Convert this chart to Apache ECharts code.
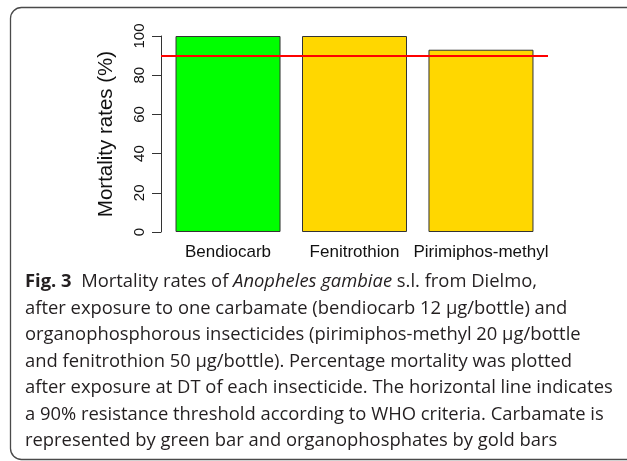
<!DOCTYPE html>
<html>
<head>
<meta charset="utf-8">
<title>Fig. 3 Mortality rates</title>
<script src="https://cdn.jsdelivr.net/npm/echarts@6/dist/echarts.min.js"></script>
<style>
    html, body {
        margin: 0;
        padding: 0;
        background: #fff;
    }
    #main {
        width: 627px;
        height: 461px;
    }
</style>
</head>
<body>
<div id="main"></div>
<script>
    // insecticides, in plotting order
    var categories = ['Bendiocarb', 'Fenitrothion', 'Pirimiphos-methyl']
    var insecticideClass = ['carbamate', 'organophosphate', 'organophosphate']
    // mortality (%)
    var mortality = [100, 100, 93]
    // WHO resistance threshold (%)
    var threshold = 90
    // y axis ticks
    var yTicks = [0, 20, 40, 60, 80, 100]

    // bar midpoints as R barplot lays them out (width 1, space 0.2)
    var barMid = categories.map(function (c, i) { return 0.7 + 1.2 * i })

    var captionLines = [
        '{b|Fig. 3}  Mortality rates of {i|Anopheles gambiae} s.l. from Dielmo,',
        'after exposure to one carbamate (bendiocarb 12 µg/bottle) and',
        'organophosphorous insecticides (pirimiphos-methyl 20 µg/bottle',
        'and fenitrothion 50 µg/bottle). Percentage mortality was plotted',
        'after exposure at DT of each insecticide. The horizontal line indicates',
        'a 90% resistance threshold according to WHO criteria. Carbamate is',
        'represented by green bar and organophosphates by gold bars'
    ]

    var classColor = {
        carbamate: '#00ff00',
        organophosphate: '#ffd700'
    }
    var rFont = 'Liberation Sans, Arial, sans-serif'
    var capFont = 'Open Sans, Noto Sans, sans-serif'
    var capSize = 18.4

    var chart = echarts.init(document.getElementById('main'), null, {renderer: 'canvas'})

    var graphics = [{
        type: 'rect',
        shape: {x: 10.5, y: 7.5, width: 650, height: 452, r: 11},
        style: {fill: 'none', stroke: '#4a4a4a', lineWidth: 1.3},
        z: 0
    }]
    captionLines.forEach(function (line, i) {
        graphics.push({
            type: 'text',
            left: 25,
            top: 273 + i * 26.5,
            style: {
                text: line,
                fontFamily: capFont,
                fontSize: capSize,
                fill: '#231f20',
                rich: {
                    b: {fontFamily: capFont, fontSize: capSize, fontWeight: 'bold', fill: '#231f20'},
                    i: {fontFamily: capFont, fontSize: capSize, fontStyle: 'italic', fill: '#231f20'}
                }
            }
        })
    })

    chart.setOption({
        animation: false,
        grid: {
            left: 161,
            right: 79,
            top: 36,
            bottom: 229
        },
        xAxis: {
            type: 'value',
            min: 0.064,
            max: 3.736,
            show: false
        },
        yAxis: {
            type: 'value',
            min: yTicks[0],
            max: yTicks[yTicks.length - 1],
            interval: yTicks[1] - yTicks[0],
            name: 'Mortality rates (%)',
            nameLocation: 'middle',
            nameGap: 44,
            nameRotate: 90,
            nameTextStyle: {
                fontFamily: rFont,
                fontSize: 20.5,
                color: '#111'
            },
            axisLine: {
                show: true,
                lineStyle: {color: '#333', width: 1}
            },
            axisTick: {
                show: true,
                length: 9,
                lineStyle: {color: '#333', width: 1}
            },
            axisLabel: {
                rotate: 90,
                margin: 14,
                fontFamily: rFont,
                fontSize: 15,
                color: '#111'
            },
            splitLine: {show: false}
        },
        series: [{
            type: 'bar',
            barWidth: 105,
            data: mortality.map(function (v, i) {
                return {
                    value: [barMid[i], v],
                    itemStyle: {color: classColor[insecticideClass[i]]}
                }
            }),
            itemStyle: {
                borderColor: '#333',
                borderWidth: 1
            },
            label: {
                show: true,
                position: 'bottom',
                distance: 12,
                formatter: function (p) {
                    return categories[p.dataIndex]
                },
                fontFamily: rFont,
                fontSize: 17,
                color: '#111'
            },
            markLine: {
                silent: true,
                symbol: 'none',
                label: {show: false},
                lineStyle: {color: '#ff0000', width: 2, type: 'solid'},
                data: [{yAxis: threshold}]
            }
        }],
        graphic: graphics
    })
</script>
</body>
</html>
